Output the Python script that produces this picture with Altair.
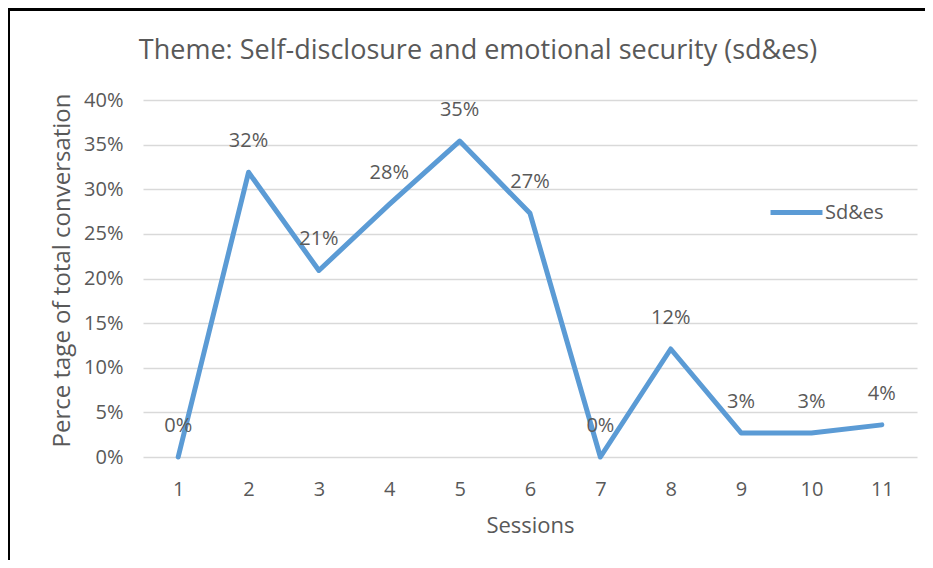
import altair as alt
import pandas as pd

sessions = ["1", "2", "3", "4", "5", "6", "7", "8", "9", "10", "11"]
values = [0.0, 0.319, 0.209, 0.283, 0.354, 0.273, 0.0, 0.121, 0.027, 0.027, 0.036]
series = ["Sd&es"] * len(sessions)

df = pd.DataFrame({"session": sessions, "value": values, "series": series})

FONT = "Open Sans"
GREY = "#595959"

x = alt.X("session:O", sort=sessions,
          scale=alt.Scale(type="point", padding=0.5),
          axis=alt.Axis(title="Sessions", labelAngle=0, ticks=False, domain=False,
                        labelPadding=22, titlePadding=16, labelFontSize=20,
                        titleFontSize=22, labelColor=GREY, titleColor=GREY,
                        labelFont=FONT, titleFont=FONT, titleFontWeight="normal"))
y = alt.Y("value:Q", scale=alt.Scale(domain=[0, 0.4]),
          axis=alt.Axis(title="Perce tage of total conversation", format="%",
                        values=[0, 0.05, 0.1, 0.15, 0.2, 0.25, 0.3, 0.35, 0.4],
                        ticks=False, domain=False, labelPadding=20, titlePadding=9,
                        titleY=170,
                        labelFontSize=20, titleFontSize=24, labelColor=GREY,
                        titleColor=GREY, labelFont=FONT, titleFont=FONT,
                        titleFontWeight="normal", gridColor="#d9d9d9", gridWidth=1.5))

line = alt.Chart(df).mark_line(strokeWidth=5, strokeJoin="round", strokeCap="round").encode(
    x=x, y=y,
    color=alt.Color("series:N", scale=alt.Scale(range=["#5B9BD5"]),
                    legend=alt.Legend(title=None, orient="none", legendX=625, legendY=84,
                                      symbolType="stroke", symbolSize=2700,
                                      symbolStrokeWidth=5, labelFontSize=20,
                                      labelColor=GREY, labelFont=FONT, labelOffset=0)),
)

labels = alt.Chart(df).mark_text(dy=-31, fontSize=20, color=GREY, font=FONT).encode(
    x=x, y=y, text=alt.Text("value:Q", format=".0%"))

frame_left = alt.Chart(df).mark_rule(color="black", strokeWidth=3).encode(
    x=alt.value(-134.5), y=alt.value(-92), y2=alt.value(470))
frame_top = alt.Chart(df).mark_rule(color="black", strokeWidth=3).encode(
    x=alt.value(-136), x2=alt.value(790), y=alt.value(-91))

chart = alt.layer(line, labels, frame_left, frame_top).properties(
    width=774, height=357,
    autosize=alt.AutoSizeParams(type="none"),
    padding={"left": 135, "top": 92, "right": 8, "bottom": 103},
    title=alt.TitleParams("Theme: Self-disclosure and emotional security (sd&es)",
                          fontSize=27, font=FONT, color=GREY, fontWeight="normal",
                          anchor="middle", dx=-52, offset=-58),
).configure_view(stroke=None)

chart.save("out.html", embed_options={"renderer": "svg", "actions": False})
